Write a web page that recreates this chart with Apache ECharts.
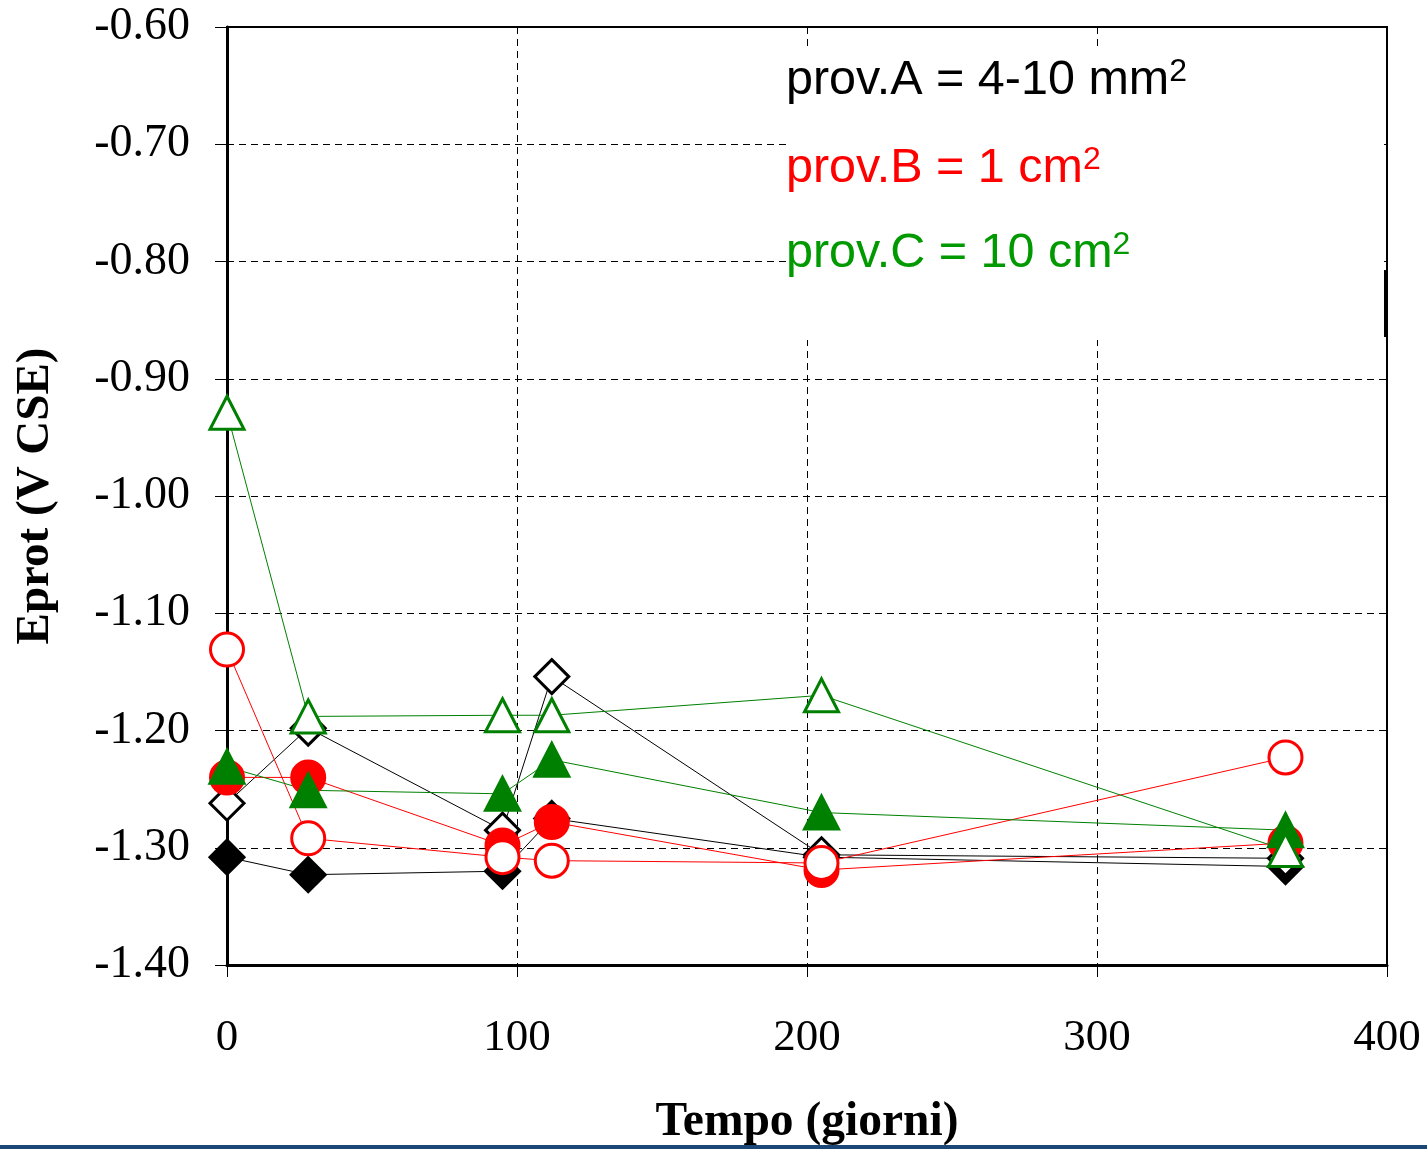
<!DOCTYPE html>
<html>
<head>
<meta charset="utf-8">
<title>Eprot vs Tempo</title>
<script src="https://cdn.jsdelivr.net/npm/echarts@6/dist/echarts.min.js"></script>
<style>
  html, body { margin: 0; padding: 0; background: #fff; }
  #chart { width: 1427px; height: 1151px; }
</style>
</head>
<body>
<div id="chart"></div>
<script>
// giorni di misura
var days = [0, 28, 95, 112, 205, 365]
// prov.A (4-10 mm2)
var provA_pieno = [-1.308, -1.323, -1.320, -1.275, -1.308, -1.316]
var provA_vuoto = [-1.262, -1.198, -1.285, -1.154, -1.306, -1.309]
// prov.B (1 cm2)
var provB_pieno = [-1.240, -1.240, -1.298, -1.278, -1.319, -1.296]
var provB_vuoto = [-1.131, -1.292, -1.308, -1.311, -1.313, -1.223]
// prov.C (10 cm2)
var provC_pieno = [-1.231, -1.251, -1.254, -1.225, -1.270, -1.285]
var provC_vuoto = [-0.929, -1.188, -1.187, -1.187, -1.170, -1.302]

var xTicks = [0, 100, 200, 300, 400]
var yTicks = [-1.4, -1.3, -1.2, -1.1, -1.0, -0.9, -0.8, -0.7, -0.6]

function pairs(vals) {
  var out = []
  for (var i = 0; i < days.length; i++) {
    out.push([days[i], vals[i]])
  }
  return out
}

function makeSeries(name, vals, color, symbol, size, filled) {
  return {
    name: name,
    type: 'line',
    data: pairs(vals),
    symbol: symbol,
    symbolSize: size,
    showAllSymbol: true,
    lineStyle: { color: color, width: 1 },
    itemStyle: {
      color: filled ? color : '#fff',
      borderColor: color,
      borderWidth: 3
    },
    emphasis: { disabled: true },
    animation: false
  }
}

var chart = echarts.init(document.getElementById('chart'))
var serif = '"Liberation Serif", "Times New Roman", serif'
var sans = '"Liberation Sans", Arial, sans-serif'

function legendText(label, color) {
  return {
    text: '{a|' + label + '}{s|2}',
    rich: {
      a: { fontFamily: sans, fontSize: 48.5, fill: color },
      s: { fontFamily: sans, fontSize: 32, fill: color, verticalAlign: 'top' }
    }
  }
}

var option = {
  backgroundColor: '#fff',
  animation: false,
  grid: {
    left: 227,
    right: 40,
    top: 27,
    bottom: 186,
    outerBoundsMode: 'none',
    containLabel: false,
    show: true,
    borderColor: '#000',
    borderWidth: 2,
    backgroundColor: 'transparent'
  },
  xAxis: {
    type: 'value',
    min: 0,
    max: 400,
    interval: 100,
    name: 'Tempo (giorni)',
    nameLocation: 'middle',
    nameGap: 134,
    nameTextStyle: { fontFamily: serif, fontWeight: 'bold', fontSize: 47.5, color: '#000' },
    axisLine: { show: true, lineStyle: { color: '#000', width: 3 } },
    axisTick: { show: true, length: 12, lineStyle: { color: '#000', width: 1 } },
    axisLabel: { fontFamily: serif, fontSize: 45, color: '#000', margin: 51 },
    splitLine: { show: true, lineStyle: { color: '#000', width: 1, type: [7, 5] } }
  },
  yAxis: {
    type: 'value',
    min: -1.4,
    max: -0.6,
    interval: 0.1,
    name: 'Eprot (V CSE)',
    nameLocation: 'middle',
    nameGap: 168,
    nameTextStyle: { fontFamily: serif, fontWeight: 'bold', fontSize: 47, color: '#000' },
    axisLine: { show: true, lineStyle: { color: '#000', width: 3 } },
    axisTick: { show: true, length: 12, lineStyle: { color: '#000', width: 1 } },
    axisLabel: {
      fontFamily: serif,
      fontSize: 46,
      color: '#000',
      margin: 37,
      formatter: function (v) { return v.toFixed(2) }
    },
    splitLine: { show: true, lineStyle: { color: '#000', width: 1, type: [7, 5] } }
  },
  series: [
    makeSeries('A pieno', provA_pieno, '#000', 'diamond', 34, true),
    makeSeries('A vuoto', provA_vuoto, '#000', 'diamond', 34, false),
    makeSeries('B pieno', provB_pieno, '#ff0000', 'circle', 33, true),
    makeSeries('B vuoto', provB_vuoto, '#ff0000', 'circle', 33, false),
    makeSeries('C pieno', provC_pieno, '#008000', 'triangle', [34, 33], true),
    makeSeries('C vuoto', provC_vuoto, '#008000', 'triangle', [34, 33], false)
  ],
  graphic: [
    // riquadro bianco dietro la legenda
    { type: 'rect', left: 789, top: 50, shape: { width: 595, height: 290 }, style: { fill: '#fff' }, z: 5 },
    { type: 'rect', left: 1384, top: 270, shape: { width: 3, height: 67 }, style: { fill: '#000' }, z: 6 },
    { type: 'text', left: 786, top: 56, z: 10, style: legendText('prov.A = 4-10 mm', '#000') },
    { type: 'text', left: 786, top: 144, z: 10, style: legendText('prov.B = 1 cm', '#ff0000') },
    { type: 'text', left: 786, top: 229, z: 10, style: legendText('prov.C = 10 cm', '#009900') },
    // barra blu in fondo
    { type: 'rect', left: 0, top: 1145, shape: { width: 1427, height: 4 }, style: { fill: '#1b4777' }, z: 10 }
  ]
}
chart.setOption(option)
</script>
</body>
</html>
